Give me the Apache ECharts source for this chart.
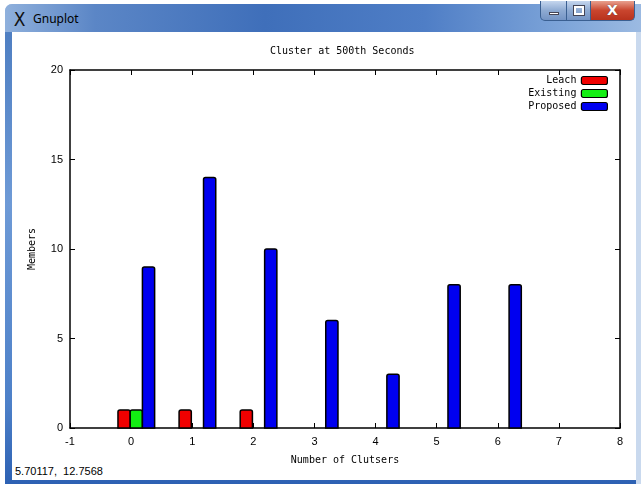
<!DOCTYPE html>
<html>
<head>
<meta charset='utf-8' />
<title>Gnuplot</title>
<script src="https://cdn.jsdelivr.net/npm/echarts@6/dist/echarts.min.js"></script>
<style>
html, body { margin: 0; padding: 0; }
body { width: 641px; height: 484px; background: #fff; position: relative; overflow: hidden; font-family: "Noto Sans", sans-serif; }
.frame {
  position: absolute; left: 5px; top: 4px; width: 660px; height: 490px;
  border-radius: 7px 0 0 0;
  background: linear-gradient(180deg, #a9c4e6 0px, #6f97cf 8px, #4f7fc2 30px, #6e9ad6 200px, #4d80c8 400px, #2d61b3 480px);
}
.bar {
  position: absolute; left: 5px; top: 4px; width: 660px; height: 28px;
  border-radius: 7px 0 0 0;
  background: linear-gradient(90deg, #8fb0dc 0px, #5b86c6 90px, #3f6fba 260px, #4f7ec6 420px, #7ea5d9 560px, #9dbbe2 640px);
}
.client { position: absolute; left: 12px; top: 32px; width: 624px; height: 448px; background: #fff; }
.rborder { position: absolute; left: 636px; top: 32px; width: 5px; height: 452px; background: #c9d9ee; }
.logo { position: absolute; left: 13px; top: 8px; font: 19px "DejaVu Sans", sans-serif; color: #111; transform: scaleX(0.9); }
.caption { position: absolute; left: 33px; top: 10px; font: 12px "Noto Sans", sans-serif; color: #000; }
.btn { position: absolute; top: 1px; height: 20px; border: 1px solid #3a5f91; border-top: none; box-sizing: border-box; }
.bmin { left: 540px; width: 27px; border-radius: 0 0 0 5px; background: linear-gradient(180deg, #c5d6ee, #8eaad2 50%, #7494c4); }
.bmax { left: 566px; width: 25px; background: linear-gradient(180deg, #c5d6ee, #8eaad2 50%, #7494c4); }
.bcls { left: 590px; width: 45px; border-radius: 0 0 5px 0; background: linear-gradient(180deg, #e8a08e, #c9452e 50%, #b8321d); }
.bmin i { position: absolute; left: 8px; top: 11px; width: 10px; height: 3px; background: #fff; border: 1px solid #445; box-sizing: border-box; }
.bmax i { position: absolute; left: 7px; top: 5px; width: 10px; height: 9px; border: 2px solid #fff; outline: 1px solid #445; box-sizing: border-box; }
.bcls span { position: absolute; left: 16px; top: 1px; font: bold 14px "DejaVu Sans", sans-serif; color: #fff; text-shadow: 0 0 1px #333; }
.status { position: absolute; left: 15px; top: 465px; font: 11px "Liberation Sans", sans-serif; color: #000; }
#chart { position: absolute; left: 0; top: 0; width: 641px; height: 484px; }
</style>
</head>
<body>
<div class="frame"></div>
<div class="bar"></div>
<div class="logo">X</div>
<div class="caption">Gnuplot</div>
<div class="btn bmin"><i></i></div>
<div class="btn bmax"><i></i></div>
<div class="btn bcls"><span>X</span></div>
<div class="client"></div>
<div class="rborder"></div>
<div class="status">5.70117,&nbsp;&nbsp;12.7568</div>
<div id="chart"></div>

<script>
// data
var leachX = [0, 1, 2];
var leachY = [1, 1, 1];
var existingX = [0];
var existingY = [1];
var proposedX = [0, 1, 2, 3, 4, 5, 6];
var proposedY = [9, 14, 10, 6, 3, 8, 8];

var seriesNames = ['Leach', 'Existing', 'Proposed'];
var seriesColors = ['#f00000', '#12ee12', '#0000f0'];
var xTicks = { min: -1, max: 8, interval: 1 };
var yTicks = { min: 0, max: 20, interval: 5 };

var mono = '"DejaVu Sans Mono", monospace';
var sans = '"Liberation Sans", Arial, sans-serif';

// box offsets from the cluster number (gnuplot boxes shifted per data set)
var boxOffset = [-0.115, 0.085, 0.285];
var boxWidth = 0.2;

function pairs(xs, ys) {
  return xs.map(function (x, i) { return [x, ys[i]]; });
}

function renderBox(params, api) {
  var off = boxOffset[params.seriesIndex];
  var x = api.value(0) + off;
  var p1 = api.coord([x - boxWidth / 2, api.value(1)]);
  var p2 = api.coord([x + boxWidth / 2, 0]);
  return {
    type: 'rect',
    shape: { x: p1[0], y: p1[1], width: p2[0] - p1[0], height: p2[1] - p1[1], r: [2, 2, 0, 0] },
    style: { fill: api.visual('color'), stroke: '#000', lineWidth: 1.5 }
  };
}

var chart = echarts.init(document.getElementById('chart'));

var axisCommon = {
  type: 'value',
  axisLine: { show: true, onZero: false, lineStyle: { color: '#000', width: 1.5 } },
  axisTick: { show: true, inside: true, length: 5, lineStyle: { color: '#000', width: 1 } },
  splitLine: { show: false }
};

var option = {
  animation: false,
  backgroundColor: 'transparent',
  grid: { left: 70, right: 21, top: 70, bottom: 56, show: false },
  graphic: [{
    type: 'text', left: 270, top: 46,
    style: { text: 'Cluster at 500th Seconds', font: '10px ' + mono, fill: '#000' }
  }],
  legend: {
    orient: 'vertical', right: 33, top: 75, align: 'right', padding: 0,
    icon: 'roundRect', itemWidth: 26, itemHeight: 8, itemGap: 2,
    itemStyle: { borderColor: '#000', borderWidth: 1.2 },
    textStyle: { fontFamily: mono, fontSize: 10, color: '#000', lineHeight: 11 },
    data: seriesNames
  },
  xAxis: [
    Object.assign({}, axisCommon, {
      position: 'bottom', min: xTicks.min, max: xTicks.max, interval: xTicks.interval,
      name: 'Number of Clutsers', nameLocation: 'middle', nameGap: 27,
      nameTextStyle: { fontFamily: mono, fontSize: 10, color: '#000' },
      axisLabel: { fontFamily: sans, fontSize: 11, color: '#000', margin: 8 }
    }),
    Object.assign({}, axisCommon, {
      position: 'top', min: xTicks.min, max: xTicks.max, interval: xTicks.interval,
      axisLabel: { show: false }
    })
  ],
  yAxis: [
    Object.assign({}, axisCommon, {
      position: 'left', min: yTicks.min, max: yTicks.max, interval: yTicks.interval,
      name: 'Members', nameLocation: 'middle', nameGap: 33, nameRotate: 90,
      nameTextStyle: { fontFamily: mono, fontSize: 10, color: '#000' },
      axisLabel: { fontFamily: sans, fontSize: 11, color: '#000', margin: 7 }
    }),
    Object.assign({}, axisCommon, {
      position: 'right', min: yTicks.min, max: yTicks.max, interval: yTicks.interval,
      axisLabel: { show: false }
    })
  ],
  series: [
    { name: seriesNames[0], type: 'custom', renderItem: renderBox, itemStyle: { color: seriesColors[0] },
      encode: { x: 0, y: 1 }, data: pairs(leachX, leachY) },
    { name: seriesNames[1], type: 'custom', renderItem: renderBox, itemStyle: { color: seriesColors[1] },
      encode: { x: 0, y: 1 }, data: pairs(existingX, existingY) },
    { name: seriesNames[2], type: 'custom', renderItem: renderBox, itemStyle: { color: seriesColors[2] },
      encode: { x: 0, y: 1 }, data: pairs(proposedX, proposedY) }
  ]
};

chart.setOption(option);
</script>
</body>
</html>
